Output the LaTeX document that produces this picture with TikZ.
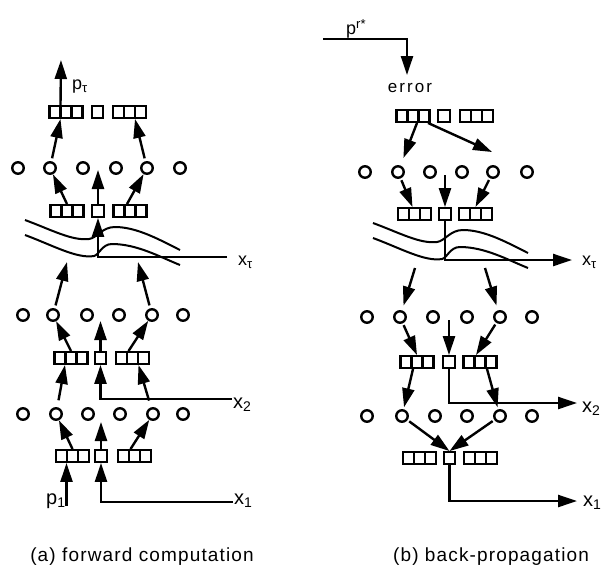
\documentclass[tikz,border=0pt]{standalone}
\usepackage{fontspec}
\setmainfont{Liberation Sans}
\usetikzlibrary{positioning, arrows.meta, calc}

\newcommand\idxdown[2]{\raisebox{-0.18em}{\fontsize{#1}{#1}\selectfont #2}}
\newcommand\idxup[2]{\raisebox{0.3em}{\fontsize{#1}{#1}\selectfont #2}}

\begin{document}
\begin{tikzpicture}[x=1pt, y=-1pt,
	unit/.style={circle, draw, line width=2.4pt, minimum size=11.5pt, inner sep=0pt},
	cell/.style={draw, line width=2.4pt, minimum size=11.5pt, inner sep=0pt},
	triple/.style={cell, minimum width=33pt, path picture={
		\draw[line width=2.4pt]
			($(path picture bounding box.north west)!1/3!(path picture bounding box.north east)$) -- ($(path picture bounding box.south west)!1/3!(path picture bounding box.south east)$)
			($(path picture bounding box.north west)!2/3!(path picture bounding box.north east)$) -- ($(path picture bounding box.south west)!2/3!(path picture bounding box.south east)$);}},
	arr/.style={line width=2.4pt, -{Triangle[length=19pt, width=12pt]}},
	big/.style={font=\fontsize{20}{22}\selectfont, inner sep=0pt, anchor=base west},
	mid/.style={font=\fontsize{18}{20}\selectfont, inner sep=0pt, anchor=base west},
	small/.style={font=\fontsize{18}{20}\selectfont, inner sep=0pt, anchor=base west},
	caption/.style={font=\fontsize{19}{21}\selectfont\addfontfeatures{LetterSpace=6}, inner sep=0pt, anchor=base},
	strands/.pic={
		\draw[line width=2pt] (-72,-22) .. controls (-45,-12) and (-20,2) .. (-3,-1) .. controls (2,-2) and (5,-13) .. (15,-13) .. controls (40,-13) and (63,0) .. (83,8);
		\draw[line width=2pt] (-72,-37) .. controls (-45,-27) and (-25,-16) .. (-8,-18) .. controls (0,-19) and (5,-30) .. (18,-30) .. controls (40,-30) and (63,-17) .. (83,-7);
	}]
	\useasboundingbox (0,0) rectangle (607,568);

	% (a) forward computation
	\foreach \n/\y/\l/\s/\r in {fA/112/66/97.5/129.5, fB/211/67/98/130, fD/358/71/100.5/132.5, fF/456/72.5/101/134.5}{
		\node[triple] (\n-l) at (\l,\y) {};
		\node[cell] (\n-s) at (\s,\y) {};
		\node[triple] (\n-r) at (\r,\y) {};
	}
	\foreach \x [count=\i] in {18,50,83,116,147,180} \node[unit] (fC\i) at (\x,168) {};
	\foreach \x [count=\i] in {23,53,87,119,152,183} \node[unit] (fE\i) at (\x,315) {};
	\foreach \x [count=\i] in {23,56,88,120,153,183} \node[unit] (fG\i) at (\x,414) {};

	\coordinate (ftop) at (61,60);
	\coordinate (fupB) at (98,170);
	\coordinate (fj) at (97,257);
	\coordinate (fxt) at (227,257);
	\coordinate (fup1) at (67,262);
	\coordinate (fup2) at (138,262);
	\coordinate (fupD) at (100.5,321);
	\coordinate (fx2) at (232,399);
	\coordinate (fupF) at (101,422);
	\coordinate (fp1) at (66.5,506);
	\coordinate (fx1) at (233,502);

	\draw[arr] ([xshift=-5.5pt]fA-l.north) -- (ftop);
	\draw[arr, shorten <=3pt] (fC2) -- ([xshift=-5.5pt]fA-l.south);
	\draw[arr, shorten <=3pt] (fC5) -- ([xshift=5.5pt]fA-r.south);
	\draw[arr] (fB-l.north) -- (fC2);
	\draw[arr] (fB-s.north) -- (fupB);
	\draw[arr] ([xshift=-3pt]fB-r.north) -- (fC5);
	\pic at (fj) {strands};
	\draw[arr] (fxt) -| (fB-s.south);
	\draw[arr, shorten <=3pt] (fE2) -- (fup1);
	\draw[arr, shorten <=3pt] (fE5) -- (fup2);
	\draw[arr] (fD-l.north) -- (fE2);
	\draw[arr] (fD-s.north) -- (fupD);
	\draw[arr] ([xshift=-4pt]fD-r.north) -- (fE5);
	\draw[arr, shorten <=7pt] (fG2) -- ([xshift=-6pt]fD-l.south);
	\draw[arr, shorten <=7pt] (fG5) -- ([xshift=6pt]fD-r.south);
	\draw[arr] (fx2) -| (fD-s.south);
	\draw[arr] (fF-l.north) -- (fG2);
	\draw[arr] (fF-s.north) -- (fupF);
	\draw[arr] ([xshift=-4pt]fF-r.north) -- (fG5);
	\draw[arr] (fp1) -- ([xshift=-6pt]fF-l.south);
	\draw[arr] (fx1) -| (fF-s.south);

	\node[small] (fptl) at (72,89) {p\idxdown{13}{τ}};
	\node[small] (fxtl) at (238,265) {x\idxdown{13}{τ}};
	\node[big] (fx2l) at (233,408) {x\idxdown{14}{2}};
	\node[big] (fx1l) at (234,504) {x\idxdown{14}{1}};
	\node[big] (fp1l) at (46,504) {p\idxdown{14}{1}};
	\node[caption] (capa) at (142,561) {(a) forward computation};

	% (b) back-propagation
	\foreach \n/\y/\l/\s/\r in {bA/116/413/444/476.5, bB/214/414.5/445/475.5, bD/362/417/449/480, bF/458/419.5/449.5/480.5}{
		\node[triple] (\n-l) at (\l,\y) {};
		\node[cell] (\n-s) at (\s,\y) {};
		\node[triple] (\n-r) at (\r,\y) {};
	}
	\foreach \x [count=\i] in {365,398,430,462,493,527} \node[unit] (bC\i) at (\x,172) {};
	\foreach \x [count=\i] in {367,400,433,467,500,532} \node[unit] (bE\i) at (\x,317) {};
	\foreach \x [count=\i] in {367,402,435,467,500,532} \node[unit] (bG\i) at (\x,416) {};

	\coordinate (bpr) at (323,39);
	\coordinate (berr) at (407,75);
	\coordinate (bfar) at (492,152);
	\coordinate (bdnB) at (445,175);
	\coordinate (bj) at (445,260);
	\coordinate (bxt) at (572,260);
	\coordinate (bdn1) at (415,268);
	\coordinate (bdn2) at (485,268);
	\coordinate (bdnD) at (449,320);
	\coordinate (bx2) at (577,403);
	\coordinate (bx1) at (577,501);

	\draw[arr] (bpr) -| (berr);
	\node[font=\fontsize{17}{19}\selectfont\addfontfeatures{LetterSpace=12}, inner sep=0pt, below=8pt of berr, xshift=3pt] (err) {error};
	\draw[arr, shorten >=8pt] ([xshift=4pt]bA-l.south) -- (bC2);
	\draw[arr] ([xshift=15pt]bA-l.south) -- (bfar);
	\draw[arr, shorten <=2pt] (bC2) -- ([xshift=-2pt]bB-l.north);
	\draw[arr] (bdnB) -- (bB-s.north);
	\draw[arr, shorten <=2pt] (bC5) -- (bB-r.north);
	\pic at (bj) {strands};
	\draw[arr] (bB-s.south) |- (bxt);
	\draw[arr, shorten >=5pt] (bdn1) -- (bE2);
	\draw[arr, shorten >=5pt] (bdn2) -- (bE5);
	\draw[arr, shorten <=2pt] (bE2) -- (bD-l.north);
	\draw[arr] (bdnD) -- (bD-s.north);
	\draw[arr, shorten <=2pt] (bE5) -- ([xshift=-4pt]bD-r.north);
	\draw[arr, shorten >=2pt] ([xshift=-4pt]bD-l.south) -- (bG2);
	\draw[arr, shorten >=2pt] ([xshift=7pt]bD-r.south) -- (bG5);
	\draw[arr] (bD-s.south) |- (bx2);
	\draw[arr, shorten <=2pt] (bG2) -- (bF-s.north);
	\draw[arr, shorten <=2pt] (bG5) -- (bF-s.north);
	\draw[arr] (bF-s.south) |- (bx1);

	\node[mid] (bprl) at (346,34) {p\idxup{13}{r*}};
	\node[small] (bxtl) at (582,265) {x\idxdown{13}{τ}};
	\node[big] (bx2l) at (582,412) {x\idxdown{14}{2}};
	\node[big] (bx1l) at (583,506) {x\idxdown{14}{1}};
	\node[caption] (capb) at (491,561) {(b) back-propagation};
\end{tikzpicture}
\end{document}
